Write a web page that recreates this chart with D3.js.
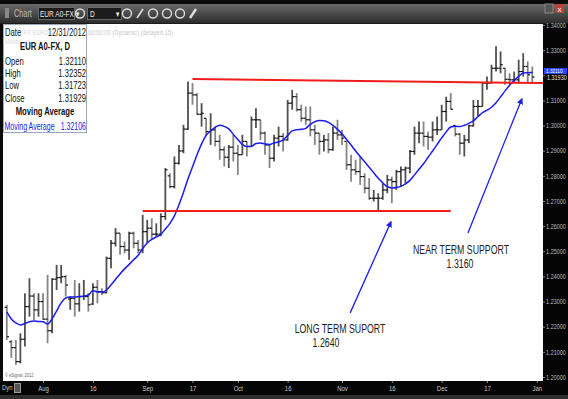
<!DOCTYPE html>
<html lang="en">
<head>
    <meta charset="UTF-8">
    <title>EUR A0-FX, D</title>
    <style>
        body { margin: 0; background: #2a2a2a; }
        svg { display: block; font-family: "Liberation Sans", Arial, sans-serif; }
    </style>
    <script src="https://d3js.org/d3.v7.min.js"></script>
</head>
<body>
    <svg width="568" height="399"></svg>
    <script>
        const width = 568;
        const height = 399;

        // trading days, weekdays from Jul 20 2012 to Jan 1 2013
        const dates = d3.timeDay.range(new Date(2012, 6, 20), new Date(2013, 0, 2))
            .filter(d => d.getDay() % 6 !== 0);

        const opens = [
            1.2277,1.2140,1.2117,1.2061,1.2150,1.2280,1.2322,1.2267,1.2300,1.2230,
            1.2184,1.2389,1.2395,1.2399,1.2310,1.2313,1.2291,1.2320,1.2320,1.2290,
            1.2357,1.2340,1.2335,1.2472,1.2532,1.2572,1.2519,1.2505,1.2572,1.2532,
            1.2505,1.2578,1.2592,1.2568,1.2568,1.2638,1.2800,1.2757,1.2850,1.2899,
            1.2986,1.3129,1.3122,1.3045,1.3029,1.2976,1.2983,1.2937,1.2904,1.2874,
            1.2914,1.2890,1.2884,1.2937,1.2917,1.3023,1.3023,1.2970,1.2923,1.2870,
            1.2950,1.2957,1.2943,1.3089,1.3115,1.3063,1.3029,1.3023,1.2983,1.2970,
            1.2937,1.2943,1.2904,1.2970,1.2963,1.2937,1.2844,1.2824,1.2817,1.2797,
            1.2751,1.2711,1.2711,1.2711,1.2744,1.2784,1.2777,1.2817,1.2824,1.2831,
            1.2897,1.2970,1.2970,1.2957,1.2954,1.2983,1.2983,1.3056,1.3096,1.3000,
            1.2966,1.2930,1.2943,1.2999,1.3076,1.3076,1.3169,1.3169,1.3228,1.3228,
            1.3228,1.3184,1.3182,1.3182,1.3215,1.3235,1.3211
        ];
        const highs = [
            1.2287,1.2147,1.2147,1.2174,1.2333,1.2393,1.2333,1.2333,1.2333,1.2406,
            1.2393,1.2446,1.2446,1.2406,1.2320,1.2386,1.2373,1.2386,1.2333,1.2373,
            1.2386,1.2353,1.2479,1.2545,1.2592,1.2572,1.2539,1.2578,1.2578,1.2545,
            1.2645,1.2625,1.2631,1.2611,1.2651,1.2831,1.2810,1.2877,1.2923,1.3003,
            1.3175,1.3169,1.3129,1.3089,1.3029,1.3049,1.2996,1.2963,1.2917,1.2923,
            1.2963,1.2923,1.2963,1.2937,1.3036,1.3069,1.3023,1.2976,1.2923,1.2963,
            1.2996,1.2970,1.3102,1.3142,1.3129,1.3083,1.3076,1.3076,1.3003,1.2970,
            1.2963,1.2970,1.2996,1.3023,1.2983,1.2937,1.2884,1.2864,1.2877,1.2810,
            1.2791,1.2744,1.2731,1.2771,1.2804,1.2797,1.2824,1.2837,1.2837,1.2903,
            1.2996,1.3016,1.3016,1.2976,1.3016,1.3036,1.3083,1.3115,1.3129,1.3003,
            1.2970,1.2963,1.3003,1.3102,1.3102,1.3169,1.3195,1.3242,1.3315,1.3295,
            1.3228,1.3208,1.3215,1.3262,1.3288,1.3255,1.3235
        ];
        const lows = [
            1.2147,1.2076,1.2048,1.2054,1.2121,1.2240,1.2227,1.2240,1.2227,1.2134,
            1.2174,1.2346,1.2373,1.2320,1.2267,1.2240,1.2260,1.2306,1.2260,1.2287,
            1.2293,1.2326,1.2333,1.2433,1.2519,1.2486,1.2492,1.2466,1.2512,1.2492,
            1.2492,1.2532,1.2545,1.2558,1.2560,1.2625,1.2751,1.2750,1.2845,1.2890,
            1.2983,1.3083,1.3043,1.2996,1.2957,1.2923,1.2917,1.2864,1.2837,1.2831,
            1.2857,1.2804,1.2884,1.2877,1.2917,1.2990,1.2943,1.2884,1.2831,1.2857,
            1.2917,1.2897,1.2940,1.3063,1.3056,1.3016,1.3003,1.2957,1.2923,1.2884,
            1.2897,1.2890,1.2900,1.2943,1.2923,1.2824,1.2777,1.2804,1.2764,1.2731,
            1.2705,1.2698,1.2664,1.2705,1.2731,1.2691,1.2744,1.2757,1.2771,1.2810,
            1.2884,1.2930,1.2917,1.2904,1.2937,1.2963,1.2983,1.3016,1.3063,1.2957,
            1.2884,1.2877,1.2930,1.2996,1.3036,1.3076,1.3142,1.3169,1.3215,1.3208,
            1.3162,1.3162,1.3169,1.3169,1.3195,1.3169,1.3172
        ];
        const closes = [
            1.2160,1.2117,1.2061,1.2150,1.2280,1.2322,1.2267,1.2300,1.2230,1.2184,
            1.2389,1.2395,1.2399,1.2366,1.2313,1.2291,1.2320,1.2320,1.2287,1.2357,
            1.2340,1.2335,1.2472,1.2532,1.2572,1.2519,1.2505,1.2572,1.2532,1.2505,
            1.2578,1.2592,1.2568,1.2568,1.2638,1.2824,1.2757,1.2850,1.2899,1.2986,
            1.3129,1.3122,1.3045,1.3049,1.2976,1.2983,1.2937,1.2904,1.2874,1.2914,
            1.2890,1.2884,1.2937,1.2917,1.3023,1.3023,1.2970,1.2923,1.2870,1.2950,
            1.2957,1.2943,1.3089,1.3115,1.3063,1.3029,1.3023,1.2983,1.2970,1.2937,
            1.2943,1.2904,1.2970,1.2963,1.2950,1.2844,1.2824,1.2817,1.2797,1.2751,
            1.2711,1.2711,1.2711,1.2744,1.2784,1.2777,1.2817,1.2824,1.2831,1.2897,
            1.2970,1.2970,1.2957,1.2954,1.2983,1.2983,1.3056,1.3096,1.3065,1.2966,
            1.2930,1.2943,1.2999,1.3076,1.3076,1.3169,1.3169,1.3228,1.3228,1.3242,
            1.3184,1.3182,1.3182,1.3215,1.3235,1.3202,1.3193
        ];
        // moving average as plotted
        const movingAvg = [
            1.2259,1.2231,1.2215,1.2207,1.2213,1.2220,1.2223,1.2221,1.2220,1.2211,
            1.2231,1.2263,1.2295,1.2314,1.2318,1.2318,1.2320,1.2322,1.2326,1.2344,
            1.2338,1.2338,1.2346,1.2366,1.2388,1.2410,1.2430,1.2448,1.2466,1.2484,
            1.2511,1.2533,1.2547,1.2557,1.2567,1.2589,1.2611,1.2641,1.2685,1.2734,
            1.2788,1.2836,1.2884,1.2927,1.2961,1.2979,1.2993,1.3001,1.2997,1.2987,
            1.2965,1.2945,1.2925,1.2917,1.2917,1.2929,1.2931,1.2927,1.2925,1.2931,
            1.2935,1.2943,1.2961,1.2979,1.2983,1.2985,1.2989,1.3005,1.3015,1.3020,
            1.3019,1.3013,1.3001,1.2985,1.2967,1.2945,1.2923,1.2899,1.2877,1.2856,
            1.2834,1.2812,1.2790,1.2772,1.2757,1.2752,1.2754,1.2758,1.2768,1.2782,
            1.2804,1.2826,1.2848,1.2874,1.2899,1.2925,1.2951,1.2975,1.2994,1.2997,
            1.2996,1.3001,1.3009,1.3019,1.3035,1.3051,1.3061,1.3073,1.3091,1.3114,
            1.3138,1.3160,1.3180,1.3196,1.3209,1.3210,1.3211
        ];

        const tickDates = ["2012-08-01","2012-08-16","2012-09-03","2012-09-17","2012-10-01","2012-10-16",
                           "2012-11-01","2012-11-16","2012-12-03","2012-12-17","2013-01-01"];
        const tickLabels = ["Aug","16","Sep","17","Oct","16","Nov","16","Dec","17","Jan"];
        const priceTicks = d3.range(0, 15).map(i => 1.20 + i * 0.01);

        // drawn annotations: [day index, price]
        const longSupport = [[30, 1.2660], [98, 1.2660]];
        const nearSupport = [[41, 1.3185], [118.4, 1.3169]];
        const longArrow = [[75.8, 1.2255], [84.8, 1.2617]];
        const nearArrow = [[101.8, 1.2573], [113.7, 1.3106]];
        const info = [["Open", "1.32110"], ["High", "1.32352"], ["Low", "1.31723"], ["Close", "1.31929"]];

        const plot = {left: 3, right: 543, top: 24, bottom: 381};

        const svg = d3.select("svg");
        const fmt = d3.timeFormat("%Y-%m-%d");
        const dayIndex = s => dates.findIndex(d => fmt(d) === s);
        const lastClose = closes[closes.length - 1];
        const lastAvg = movingAvg[movingAvg.length - 1];

        const x = d3.scaleLinear().domain([0, dates.length - 1]).range([6.8, 536.8]);
        const y = d3.scaleLinear().domain([1.20, 1.34]).range([377, 25]);

        // window chrome
        svg.append("rect").attr("width", width).attr("height", height).attr("fill", "#2e2e2e");
        const defs = svg.append("defs");
        const grad = defs.append("linearGradient").attr("id", "bar").attr("x1", 0).attr("y1", 0).attr("x2", 0).attr("y2", 1);
        grad.append("stop").attr("offset", 0).attr("stop-color", "#6a6a6a");
        grad.append("stop").attr("offset", 1).attr("stop-color", "#2c2c2c");
        svg.append("rect").attr("width", width).attr("height", 4).attr("fill", "#0a0a0a");
        svg.append("rect").attr("y", 4).attr("width", width).attr("height", 19).attr("fill", "url(#bar)");
        svg.append("rect").attr("y", 23).attr("width", width).attr("height", 1).attr("fill", "#1a1a1a");

        defs.append("clipPath").attr("id", "clip").append("rect")
            .attr("x", plot.left).attr("y", plot.top)
            .attr("width", plot.right - plot.left).attr("height", plot.bottom - plot.top);
        defs.append("marker").attr("id", "head").attr("viewBox", "0 0 10 10")
            .attr("refX", 8).attr("refY", 5).attr("markerWidth", 5).attr("markerHeight", 5)
            .attr("orient", "auto")
            .append("path").attr("d", "M0,0L10,5L0,10Z").attr("fill", "#1f1fe6");

        // squashed text helper, the whole screenshot is narrowed
        function label(g, tx, ty, str, opts = {}) {
            return g.append("text")
                .attr("transform", `translate(${tx},${ty}) scale(${opts.squash || 0.73},1)`)
                .attr("text-anchor", opts.anchor || "start")
                .attr("font-size", opts.size || 10)
                .attr("font-weight", opts.weight || "normal")
                .attr("fill", opts.fill || "#111")
                .text(str);
        }

        // toolbar
        const tb = svg.append("g");
        tb.append("rect").attr("x", 5).attr("y", 8).attr("width", 4).attr("height", 10).attr("fill", "#888");
        label(tb, 14, 17, "Chart", {size: 10, fill: "#b8b8b8"});
        tb.append("rect").attr("x", 38.5).attr("y", 7.5).attr("width", 36).attr("height", 12)
            .attr("fill", "#1c1c1c").attr("stroke", "#666");
        label(tb, 40, 17, "EUR A0-FX \u25be", {size: 9, fill: "#eee"});
        tb.append("circle").attr("cx", 80).attr("cy", 13.5).attr("r", 4.5).attr("fill", "none").attr("stroke", "#ddd").attr("stroke-width", 1.4);
        tb.append("rect").attr("x", 87.5).attr("y", 7.5).attr("width", 34).attr("height", 12)
            .attr("fill", "#1c1c1c").attr("stroke", "#666");
        label(tb, 90, 17, "D", {size: 9, fill: "#eee"});
        label(tb, 116, 17, "\u25be", {size: 9, fill: "#eee"});
        [127, 153, 167, 180].forEach(cx => {
            tb.append("circle").attr("cx", cx).attr("cy", 13.5).attr("r", 4.5)
                .attr("fill", "none").attr("stroke", "#ddd").attr("stroke-width", 1.4);
        });
        tb.append("line").attr("x1", 137).attr("y1", 18).attr("x2", 143).attr("y2", 9).attr("stroke", "#ddd").attr("stroke-width", 1.6);
        tb.append("line").attr("x1", 190).attr("y1", 18).attr("x2", 196).attr("y2", 9).attr("stroke", "#ddd").attr("stroke-width", 2.4);
        tb.append("rect").attr("x", 545).attr("y", 4).attr("width", 8).attr("height", 9).attr("fill", "#555").attr("stroke", "#888");
        tb.append("rect").attr("x", 555).attr("y", 4).attr("width", 9).attr("height", 9).attr("fill", "#b8433a");
        tb.append("text").attr("x", 559.5).attr("y", 11.5).attr("text-anchor", "middle")
            .attr("font-size", 8).attr("fill", "#fff").text("x");

        // plot area
        svg.append("rect").attr("x", plot.left).attr("y", plot.top)
            .attr("width", plot.right - plot.left).attr("height", plot.bottom - plot.top).attr("fill", "#fff");

        const chart = svg.append("g").attr("clip-path", "url(#clip)");

        const bars = chart.append("g").selectAll("g")
            .data(closes.map((c, i) => ({i, o: opens[i], h: highs[i], l: lows[i], c})))
            .join("g");
        bars.append("line")
            .attr("x1", d => x(d.i)).attr("x2", d => x(d.i))
            .attr("y1", d => y(d.h)).attr("y2", d => y(d.l))
            .attr("stroke", d => d.c >= d.o ? "#505050" : "#858585").attr("stroke-width", 1.8);
        bars.append("line")
            .attr("x1", d => x(d.i) - 2.2).attr("x2", d => x(d.i))
            .attr("y1", d => y(d.o)).attr("y2", d => y(d.o))
            .attr("stroke", "#111").attr("stroke-width", 1.2);
        bars.append("line")
            .attr("x1", d => x(d.i)).attr("x2", d => x(d.i) + 2.2)
            .attr("y1", d => y(d.c)).attr("y2", d => y(d.c))
            .attr("stroke", "#111").attr("stroke-width", 1.2);

        chart.append("path")
            .datum(movingAvg)
            .attr("fill", "none").attr("stroke", "#1c1cf0").attr("stroke-width", 1.5)
            .attr("d", d3.line().x((d, i) => x(i)).y(d => y(d)).curve(d3.curveMonotoneX));

        const seg = d3.line().x(d => x(d[0])).y(d => y(d[1]));
        [longSupport, nearSupport].forEach(s => {
            chart.append("path").attr("d", seg(s)).attr("stroke", "#f21c1c").attr("stroke-width", 2).attr("fill", "none");
        });
        [longArrow, nearArrow].forEach(s => {
            chart.append("path").attr("d", seg(s)).attr("stroke", "#1f1fe6").attr("stroke-width", 1.3)
                .attr("fill", "none").attr("marker-end", "url(#head)");
        });

        label(chart, 461, 254, "NEAR TERM SUPPORT", {size: 12, anchor: "middle", fill: "#222"});
        label(chart, 460, 268, "1.3160", {size: 12, anchor: "middle", fill: "#222"});
        label(chart, 340, 333, "LONG TERM  SUPORT", {size: 12, anchor: "middle", fill: "#222"});
        label(chart, 326, 347, "1.2640", {size: 12, anchor: "middle", fill: "#222"});
        label(chart, 5, 377, "\u00a9 eSignal, 2012", {size: 5.5, fill: "#666"});

        // info box
        const box = svg.append("g");
        box.append("rect").attr("x", 3.5).attr("y", 24.5).attr("width", 83).attr("height", 108)
            .attr("fill", "#fff").attr("stroke", "#9aa8c0");
        label(box, 24, 35, "FX EURO", {size: 7.5, fill: "#d8d8d8"});
        label(box, 88, 35, "00:00:00 (Dynamic) (delayed 15)", {size: 8, fill: "#c8c8c8"});
        label(box, 5, 44, "Moving", {size: 7, fill: "#dadada"});
        label(box, 5, 36, "Date", {size: 10.5});
        label(box, 86, 36, "12/31/2012", {size: 10.5, anchor: "end"});
        label(box, 45, 50, "EUR A0-FX, D", {size: 10.5, weight: "bold", anchor: "middle"});
        info.forEach(([k, v], i) => {
            label(box, 5, 65 + i * 12.2, k, {size: 10.5});
            label(box, 86, 65 + i * 12.2, v, {size: 10.5, anchor: "end"});
        });
        label(box, 45, 115, "Moving Average", {size: 10.5, weight: "bold", anchor: "middle"});
        label(box, 4.5, 130, "Moving Average", {size: 10, fill: "#2222ee", squash: 0.7});
        label(box, 86, 130, "1.32106", {size: 10, anchor: "end", fill: "#2222ee", squash: 0.7});

        // price axis, the tick label near the last close is covered by the value markers
        svg.append("rect").attr("x", plot.right).attr("y", plot.top)
            .attr("width", width - plot.right).attr("height", plot.bottom - plot.top + 14).attr("fill", "#050505");
        const yAxis = svg.append("g").attr("transform", `translate(${plot.right},0)`)
            .call(d3.axisRight(y).tickValues(priceTicks)
                .tickFormat(d => Math.abs(d - lastClose) < 0.004 ? "" : d3.format(".5f")(d))
                .tickSize(2).tickPadding(2));
        yAxis.select(".domain").remove();
        yAxis.selectAll("line").attr("stroke", "#888");
        yAxis.selectAll("text").attr("fill", "#bdbdbd").attr("font-size", 7)
            .attr("transform", "scale(0.78,1)");
        svg.append("rect").attr("x", plot.right + 1).attr("y", y(lastAvg) - 4.5).attr("width", 23).attr("height", 6).attr("fill", "#2b45ff");
        svg.append("text").attr("transform", `translate(${plot.right + 3},${y(lastAvg) + 0.5}) scale(0.78,1)`)
            .attr("font-size", 6).attr("fill", "#fff").text(d3.format(".5f")(lastAvg));
        svg.append("text").attr("transform", `translate(${plot.right + 4},${y(lastClose) + 2.5}) scale(0.78,1)`)
            .attr("font-size", 7).attr("fill", "#e8e8e8").text(d3.format(".5f")(lastClose));

        // time axis
        svg.append("rect").attr("x", 0).attr("y", plot.bottom).attr("width", width).attr("height", 14).attr("fill", "#050505");
        const xAxis = svg.append("g").attr("transform", `translate(0,${plot.bottom})`)
            .call(d3.axisBottom(x).tickValues(tickDates.map(dayIndex))
                .tickFormat((d, i) => tickLabels[i]).tickSize(2).tickPadding(3));
        xAxis.select(".domain").remove();
        xAxis.selectAll("line").attr("stroke", "#888");
        xAxis.selectAll("text").attr("fill", "#c8c8c8").attr("font-size", 7.5)
            .attr("transform", "scale(0.8,1)");
        label(svg, 2, 390, "Dyn", {size: 8, fill: "#ccc"});
        svg.append("rect").attr("x", 14.5).attr("y", 383.5).attr("width", 6).attr("height", 9)
            .attr("fill", "#555").attr("stroke", "#999");
        svg.append("rect").attr("x", 0).attr("y", plot.top).attr("width", plot.left).attr("height", plot.bottom - plot.top).attr("fill", "#0a0a0a");
    </script>
</body>
</html>
